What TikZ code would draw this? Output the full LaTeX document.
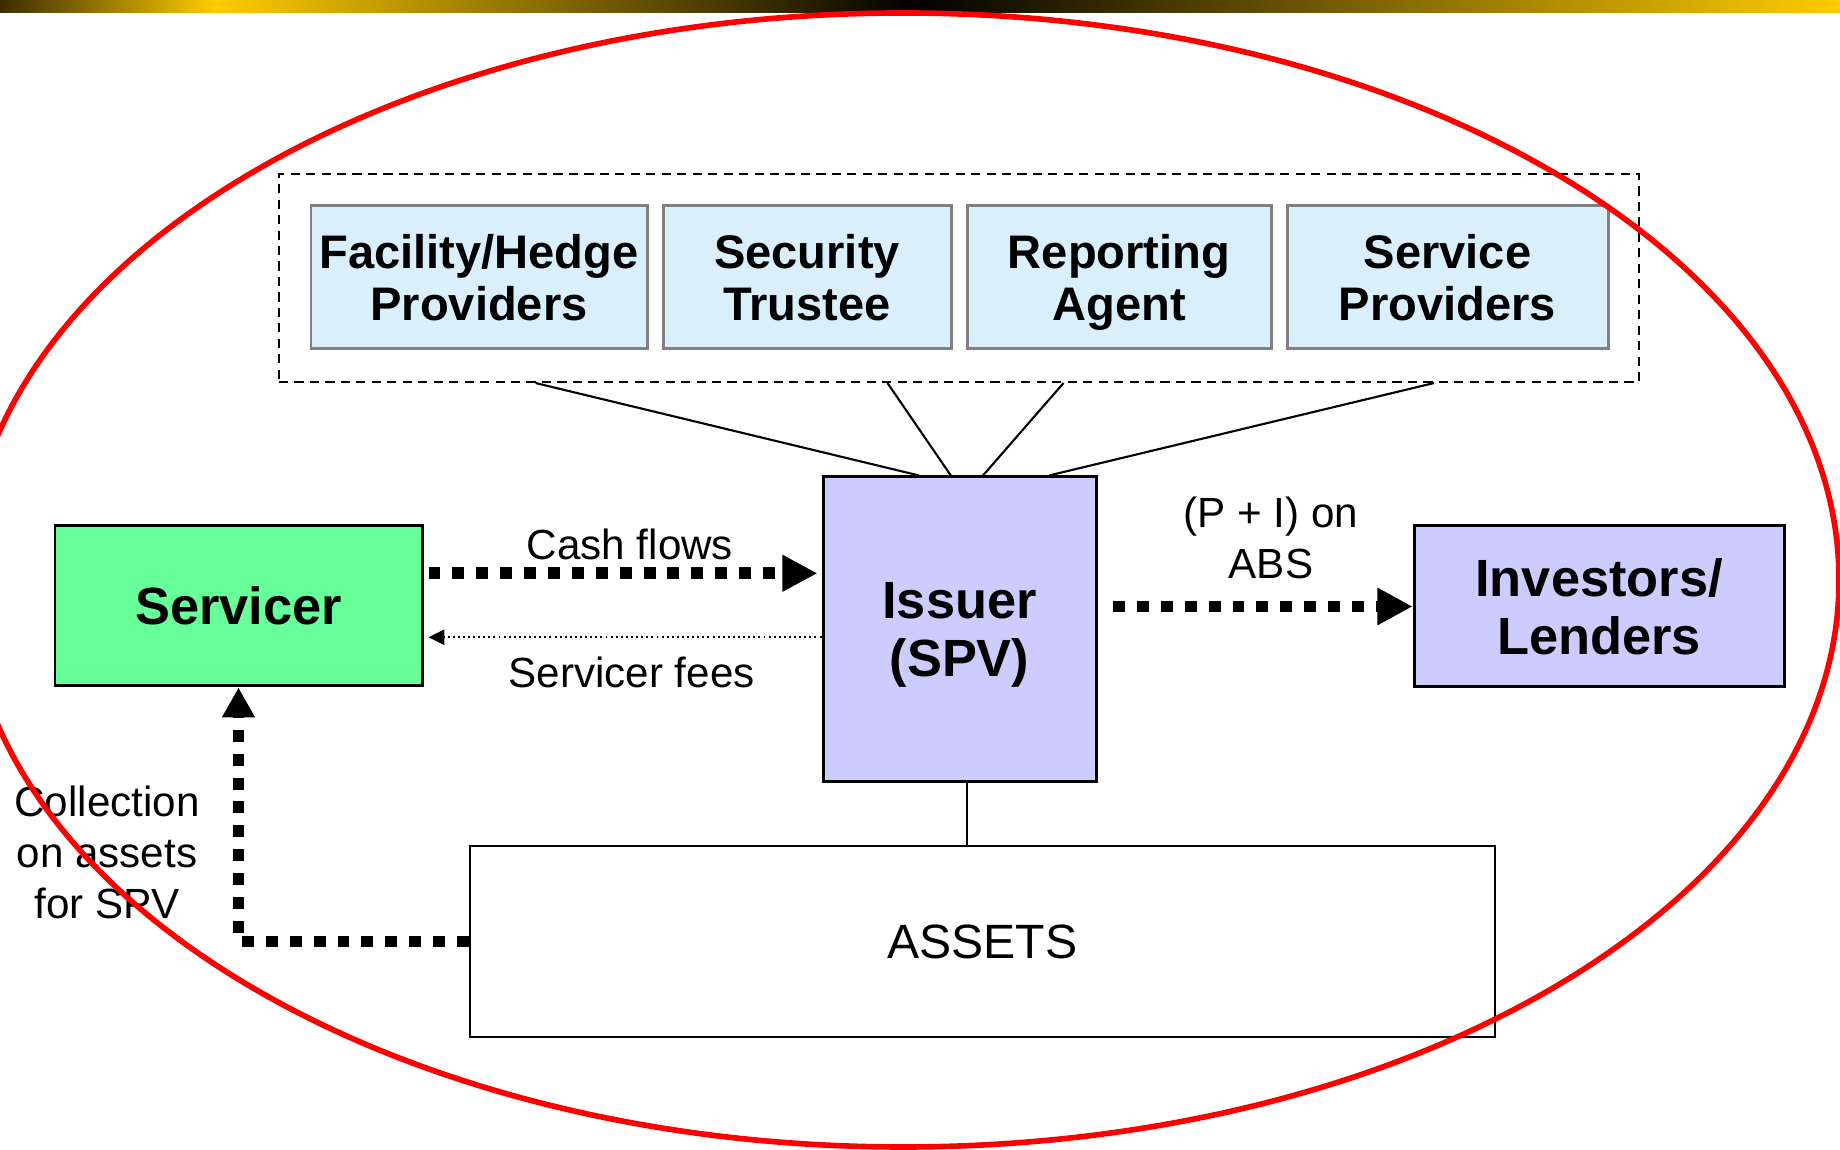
\documentclass[tikz,border=0pt]{standalone}
\usepackage{fontspec}
\setmainfont{Liberation Sans}
\usetikzlibrary{arrows.meta}

\definecolor{gold}{HTML}{FFCC00}
\definecolor{bardark}{HTML}{3A2C00}
\definecolor{memberblue}{HTML}{D9EFFC}
\definecolor{spvblue}{HTML}{CCCCFF}
\definecolor{servgreen}{HTML}{66FF99}

\begin{document}
\begin{tikzpicture}[
    member/.style={draw=gray, line width=0.85pt, fill=memberblue, minimum height=1.43cm,
        align=center, inner sep=0pt, font=\fontsize{13.4pt}{14.8pt}\selectfont\bfseries},
    party/.style={draw=black, line width=0.85pt, fill=spvblue, align=center, inner sep=0pt,
        font=\fontsize{14.9pt}{16.6pt}\selectfont\bfseries},
    flowtext/.style={align=center, inner sep=0pt, font=\fontsize{12pt}{14.5pt}\selectfont},
    cashflow/.style={line width=3.4pt, dash pattern=on 3.4pt off 3.4pt,
        -{Triangle[length=10pt,width=9.8pt]}},
    feeflow/.style={line width=0.55pt, dash pattern=on 0.55pt off 0.9pt,
        -{Triangle[length=4.5pt,width=4.3pt]}}
]
\useasboundingbox (0,0) rectangle (18.4,11.5);
\clip (0,0) rectangle (18.4,11.5);

% Title bar
\shade[left color=bardark, right color=gold] (0,11.37) rectangle (2.15,11.5);
\shade[left color=gold, right color=black] (2.15,11.37) rectangle (9.15,11.5);
\shade[left color=black, right color=gold] (9.15,11.37) rectangle (18.4,11.5);

% Other parties
\node (grp) [draw, line width=0.6pt, dash pattern=on 2.6pt off 1.8pt,
    minimum width=13.6cm, minimum height=2.08cm] at (9.59,8.72) {};
\node (fhp) [member, minimum width=3.36cm] at (4.79,8.725) {Facility/Hedge\\Providers};
\node (trustee) [member, minimum width=2.88cm] at (8.07,8.725) {Security\\Trustee};
\node (agent) [member, minimum width=3.04cm] at (11.19,8.725) {Reporting\\\smash{Agent}};
\node (provider) [member, minimum width=3.21cm] at (14.475,8.725) {Service\\Providers};

% Main parties
\node (iss) [party, minimum width=2.73cm, minimum height=3.05cm] at (9.595,5.205) {Issuer\\\smash{(SPV)}};
\node (svc) [party, fill=servgreen, minimum width=3.67cm, minimum height=1.60cm] at (2.385,5.44) {Servicer};
\node (inv) [party, minimum width=3.70cm, minimum height=1.61cm] at (15.99,5.435) {Investors/\\Lenders};
\node (assets) [draw, line width=0.6pt, minimum width=10.25cm, minimum height=1.91cm,
    font=\fontsize{13.7pt}{16pt}\selectfont] at (9.825,2.085) {ASSETS};

% Links to the issuer
\draw[line width=0.6pt] ([xshift=-4.234cm]grp.south) -- ([xshift=-0.405cm]iss.north);
\draw[line width=0.6pt] ([xshift=-0.715cm]grp.south) -- ([xshift=-0.087cm]iss.north);
\draw[line width=0.6pt] ([xshift=1.045cm]grp.south) -- ([xshift=0.235cm]iss.north);
\draw[line width=0.6pt] ([xshift=4.75cm]grp.south) -- ([xshift=0.895cm]iss.north);
\draw[line width=0.6pt] ([xshift=0.075cm]iss.south) -- ([xshift=0.075cm]iss.south |- assets.north);

% Flows
\draw[cashflow, shorten <=0.05cm, shorten >=0.04cm] ([yshift=0.327cm]svc.east) -- ([yshift=0.327cm]svc.east -| iss.west);
\draw[feeflow, shorten >=0.05cm] ([yshift=-0.313cm]svc.east -| iss.west) -- ([yshift=-0.313cm]svc.east);
\draw[cashflow, shorten <=0.155cm, -{Triangle[length=10pt,width=10pt]}] (iss.east |- inv.west) -- (inv.west);
\draw[cashflow, -{Triangle[length=8.5pt,width=8.8pt]}] (assets.west) -| (svc.south);

\node (cashlbl) [flowtext, anchor=base] at (6.30,5.90) {Cash flows};
\node (feelbl) [flowtext, anchor=base] at (6.317,4.62) {Servicer fees};
\node (pilbl) [flowtext] at (12.71,6.12) {(P + I) on\\ABS};
\node (colllbl) [flowtext] at (1.07,2.975) {Collection\\on assets\\for SPV};

% Ring round the structure
\draw[red, line width=1.6pt] (9.03,5.70) ellipse [x radius=9.36cm, y radius=5.67cm];

\end{tikzpicture}
\end{document}
